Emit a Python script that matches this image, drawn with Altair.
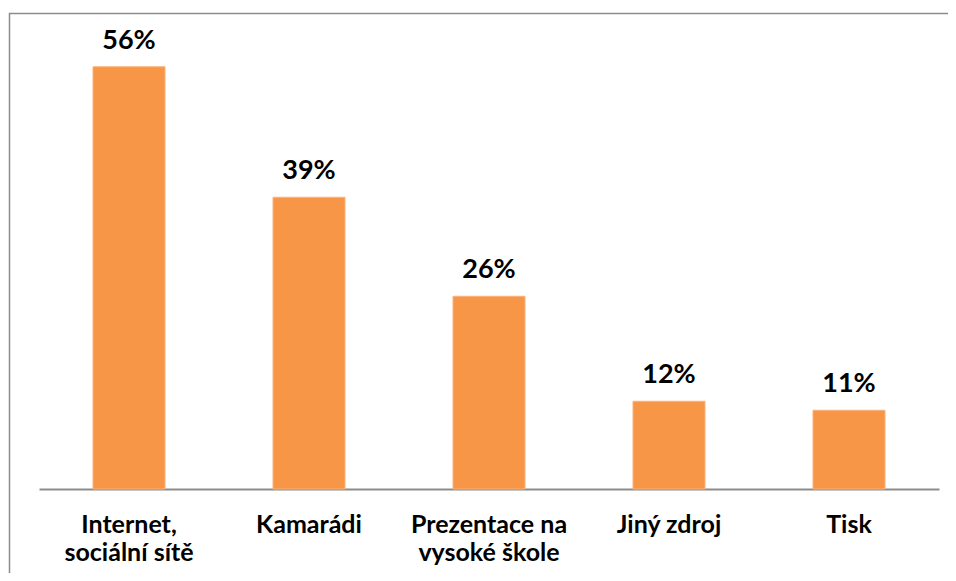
import altair as alt
import pandas as pd

categories = ["Internet,|sociální sítě", "Kamarádi", "Prezentace na|vysoké škole", "Jiný zdroj", "Tisk"]
values = [0.563, 0.389, 0.257, 0.117, 0.105]
labels = ["56%", "39%", "26%", "12%", "11%"]

df = pd.DataFrame({"cat": categories, "val": values, "lab": labels})

FONT = "Lato"
ORANGE = "#F79646"
GRAY = "#8c8c8c"

x = alt.X(
    "cat:N",
    sort=categories,
    scale=alt.Scale(paddingInner=0.6, paddingOuter=0.3),
    axis=alt.Axis(
        title=None,
        labelAngle=0,
        ticks=False,
        domainColor=GRAY,
        domainWidth=2,
        labelFont=FONT,
        labelFontWeight="bold",
        labelFontSize=25,
        labelColor="#000000",
        labelPadding=43,
        labelLineHeight=28,
        labelBaseline="alphabetic",
        labelExpr="split(datum.value, '|')",
    ),
)
y = alt.Y("val:Q", scale=alt.Scale(domain=[0, 0.6], nice=False), axis=None)

base = alt.Chart(df)

bars = base.mark_bar(color=ORANGE, stroke="#f9b27c", strokeWidth=1).encode(x=x, y=y)
text = base.mark_text(
    font=FONT, fontWeight="bold", fontSize=27, baseline="alphabetic", dy=-18, color="#000000"
).encode(x=x, y=y, text="lab:N")

border = alt.Chart(pd.DataFrame({"a": [0]})).mark_rect(
    fill=None, stroke=GRAY, strokeWidth=1.5, clip=False
).encode(
    x=alt.value(-29.5), x2=alt.value(1200), y=alt.value(-25.5), y2=alt.value(900)
)

chart = (
    alt.layer(border, bars, text)
    .properties(
        width=900,
        height=450,
        padding={"left": 31, "top": 31, "right": 9, "bottom": 84},
        autosize=alt.AutoSizeParams(type="none"),
        background="#ffffff",
    )
    .configure_view(stroke=None)
)

chart.save("out.html", embed_options={"renderer": "svg", "actions": False})
